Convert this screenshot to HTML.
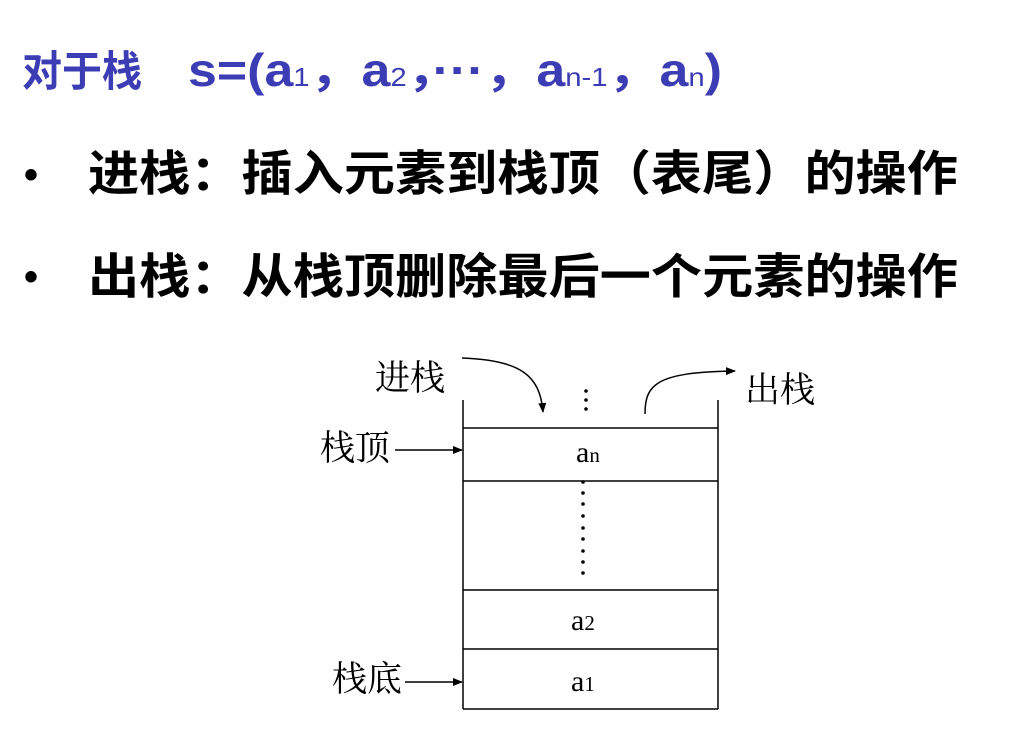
<!DOCTYPE html>
<html><head><meta charset="utf-8"><style>
html,body{margin:0;padding:0;background:#fff;width:1024px;height:745px;overflow:hidden}
</style></head><body>
<svg width="1024" height="745" viewBox="0 0 1024 745" xmlns="http://www.w3.org/2000/svg">
<defs><marker id="ah" markerWidth="10" markerHeight="8" refX="9" refY="4" orient="auto" markerUnits="userSpaceOnUse"><path d="M0,0 L10,4 L0,8 z" fill="#000"/></marker></defs>
<g font-family="'Liberation Sans','Noto Sans CJK SC',sans-serif" font-weight="bold" fill="#3c3cb4">
<text x="22" y="86" font-size="42" textLength="120" lengthAdjust="spacingAndGlyphs">对于栈</text>
<text x="188" y="86" font-size="46" textLength="534" lengthAdjust="spacingAndGlyphs">s=(a<tspan font-size="26" font-weight="normal">1</tspan>，a<tspan font-size="26" font-weight="normal">2</tspan>，···，a<tspan font-size="26" font-weight="normal">n-1</tspan>，a<tspan font-size="26" font-weight="normal">n</tspan>)</text>
</g>
<g font-family="'Liberation Sans','Noto Sans CJK SC',sans-serif" font-weight="bold" fill="#000">
<text x="24" y="188" font-size="40">•</text>
<text x="24" y="290" font-size="40">•</text>
<text x="88" y="190" font-size="48" textLength="870" lengthAdjust="spacingAndGlyphs">进栈：插入元素到栈顶（表尾）的操作</text>
<text x="88" y="293" font-size="48" textLength="870" lengthAdjust="spacingAndGlyphs">出栈：从栈顶删除最后一个元素的操作</text>
</g>
<g stroke="#000" stroke-width="1.5" fill="none">
<line x1="463" y1="400" x2="463" y2="709"/>
<line x1="718" y1="400" x2="718" y2="709"/>
<line x1="463" y1="428" x2="718" y2="428"/>
<line x1="463" y1="481" x2="718" y2="481"/>
<line x1="463" y1="590" x2="718" y2="590"/>
<line x1="463" y1="649" x2="718" y2="649"/>
<line x1="463" y1="709" x2="718" y2="709"/>
<line x1="395" y1="450" x2="462" y2="450" marker-end="url(#ah)"/>
<line x1="405" y1="682" x2="462" y2="682" marker-end="url(#ah)"/>
<path d="M462,358 C520,360 540,375 543,412" marker-end="url(#ah)"/>
<path d="M645,414 C645,385 655,372 735,371" marker-end="url(#ah)"/>
</g>
<g fill="#000">
<circle cx="586" cy="391" r="1.8"/><circle cx="586" cy="400" r="1.8"/><circle cx="586" cy="409" r="1.8"/>
<circle cx="583" cy="482" r="1.8"/><circle cx="583" cy="493" r="1.8"/><circle cx="583" cy="504" r="1.8"/><circle cx="583" cy="516" r="1.8"/><circle cx="583" cy="528" r="1.8"/><circle cx="583" cy="539" r="1.8"/><circle cx="583" cy="551" r="1.8"/><circle cx="583" cy="562" r="1.8"/><circle cx="583" cy="573" r="1.8"/>
</g>
<g font-family="'Liberation Serif','Noto Serif CJK SC',serif" fill="#000" font-size="35">
<text x="375" y="390">进栈</text>
<text x="745" y="402">出栈</text>
<text x="320" y="460">栈顶</text>
<text x="332" y="691">栈底</text>
<g font-size="30">
<text x="576" y="462">a<tspan font-size="21">n</tspan></text>
<text x="571" y="630">a<tspan font-size="21">2</tspan></text>
<text x="571" y="691">a<tspan font-size="21">1</tspan></text>
</g>
</g>
</svg>
</body></html>
